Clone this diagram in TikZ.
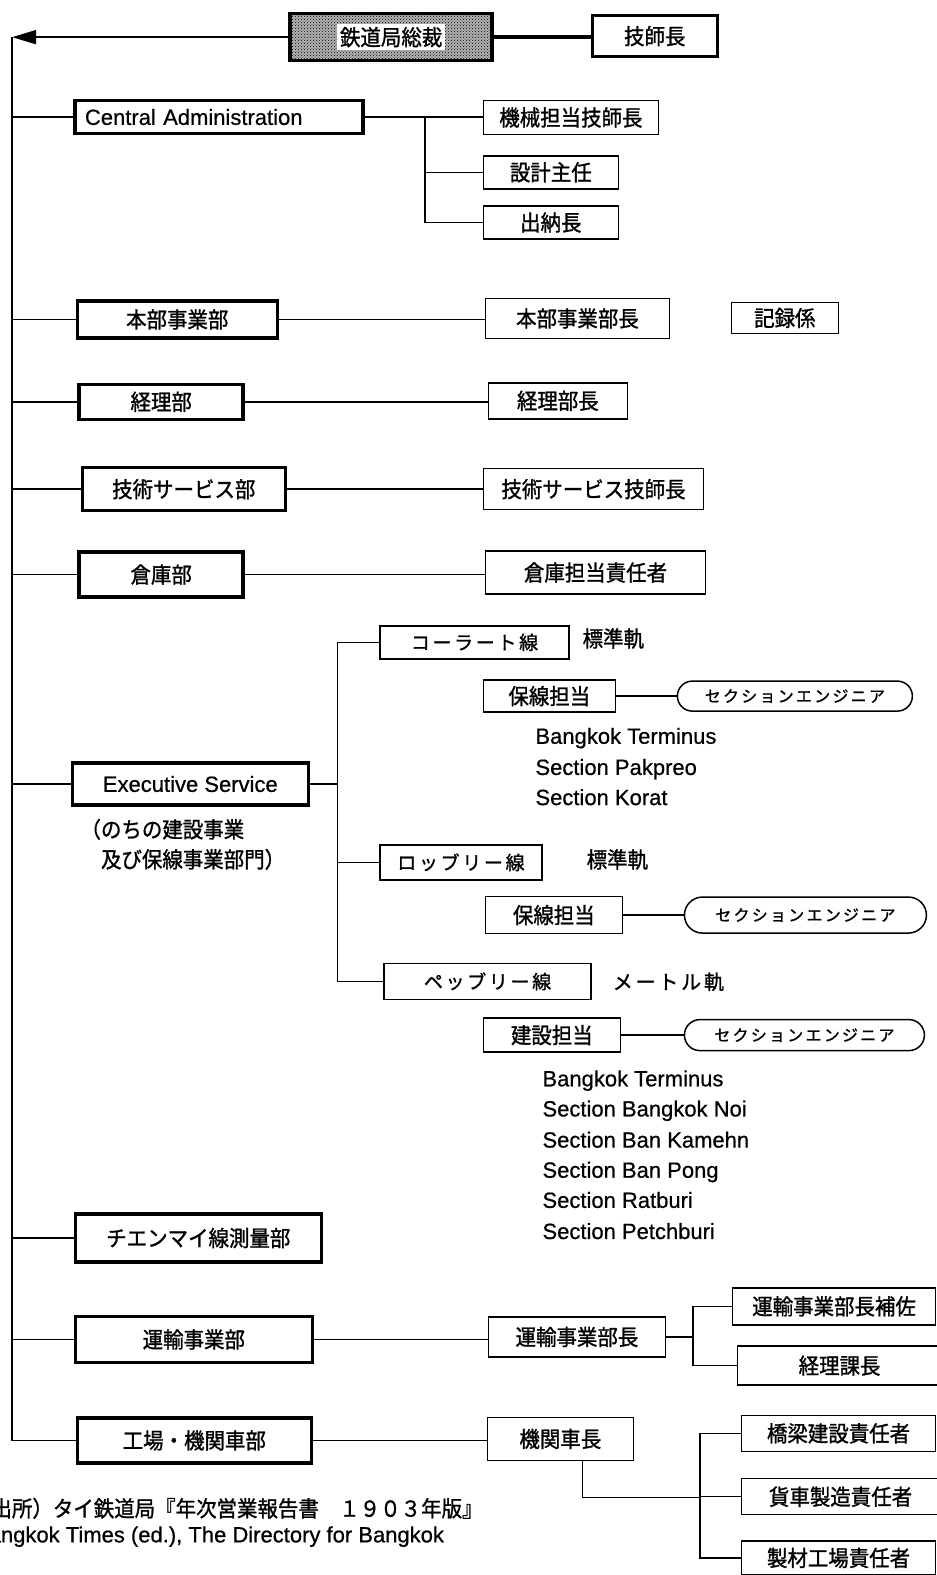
\documentclass[tikz,border=0pt]{standalone}
\usepackage{fontspec}
\setmainfont{Liberation Sans}[FakeBold=0.6]
\newfontfamily\jp[FakeStretch=0.93, FakeBold=1.2]{Noto Sans CJK JP}
\newfontfamily\jpsp[LetterSpace=14, FakeBold=1.2]{Noto Sans CJK JP}
\usetikzlibrary{patterns,arrows.meta,shapes.misc}
\begin{document}
\begin{tikzpicture}[x=1.0043pt,y=-1.0045pt,
  thickbox/.style={draw, line width=3.5pt, inner sep=0pt, font=\jp\fontsize{22}{22}\selectfont},
  thinbox/.style={draw, line width=1.5pt, inner sep=0pt, font=\jp\fontsize{22}{22}\selectfont},
  sz/.style 2 args={minimum width=#1pt, minimum height=#2pt},
  stadium/.style={draw, rounded rectangle, line width=1.5pt, inner sep=0pt, font=\jpsp\fontsize{16}{16}\selectfont},
  spaced/.style={font=\jpsp\fontsize{19}{19}\selectfont},
  conn/.style={line width=1.5pt},
  entxt/.style={font=\fontsize{22}{22}\selectfont, anchor=west, inner sep=0pt, text height=16pt, text depth=5pt},
  jptxt/.style={font=\jp\fontsize{22}{22}\selectfont, anchor=west, inner sep=0pt, text height=18pt, text depth=4pt}]
\useasboundingbox (0,0) rectangle (933,1568);

% top
\node[thickbox, sz={202}{47}, preaction={fill=black!30}, pattern=crosshatch dots, pattern color=black] (pres) at (389.5,37) {};
\node[fill=white, inner sep=3pt, font=\jp\fontsize{22}{22}\selectfont] (preslbl) at (pres.center) {鉄道局総裁};
\node[thickbox, sz={125}{41}] (gishi) at (652,36) {技師長};
\draw[line width=3.5pt] (pres.east) -- (pres.east -| gishi.west);
\coordinate (tl) at (12,37);
\draw[line width=1.8pt, -{Triangle[length=24pt,width=14pt]}] (pres.west) -- (tl);

% central administration
\node[thickbox, sz={288}{33}, inner xsep=10pt, text width=268pt, align=left, font=\fontsize{22}{22}\selectfont] (ca) at (218,116.5) {Central Administration};
\node[thinbox, sz={175}{34}] (kikai) at (568.5,117) {機械担当技師長};
\node[thinbox, sz={135}{33}] (sekkei) at (548.5,171.5) {設計主任};
\node[thinbox, sz={135}{33}] (suitou) at (548.5,221.5) {出納長};
\coordinate (cab) at (423,117);
\draw[conn] (ca.east) -- (ca.east -| kikai.west);
\draw[conn] (cab) |- (suitou.west);
\draw[conn] (cab |- sekkei.west) -- (sekkei.west);

% departments
\node[thickbox, sz={200}{37}] (hombu) at (176.5,318) {本部事業部};
\node[thinbox, sz={184}{40}] (hombuchou) at (575,317) {本部事業部長};
\node[thinbox, sz={107}{31}] (kiroku) at (781.5,316.5) {記録係};
\draw[conn] (hombu.east) -- (hombu.east -| hombuchou.west);

\node[thickbox, sz={164}{35}] (keiri) at (160.5,400) {経理部};
\node[thinbox, sz={139}{36}] (keirichou) at (555.5,399) {経理部長};
\draw[conn] (keiri.east) -- (keiri.east -| keirichou.west);

\node[thickbox, sz={203}{43}] (gijutsu) at (183,487) {技術サービス部};
\node[thinbox, sz={220}{41}] (gijutsuchou) at (591,487) {技術サービス技師長};
\draw[conn] (gijutsu.east) -- (gijutsu.east -| gijutsuchou.west);

\node[thickbox, sz={164}{45}] (souko) at (160.5,572) {倉庫部};
\node[thinbox, sz={220}{43}] (soukochou) at (593,570) {倉庫担当責任者};
\draw[conn] (souko.east) -- (souko.east -| soukochou.west);

% executive service
\node[thickbox, sz={236}{42}, font=\fontsize{22}{22}\selectfont] (exec) at (189.5,780.5) {Executive Service};
\node[anchor=north west, inner sep=0pt, align=left, font=\jp\fontsize{22}{30}\selectfont] (annot) at (80,815) {（のちの建設事業\\　及び保線事業部門）};
\coordinate (eb) at (336,780.5);
\node[thinbox, sz={189}{33}, spaced] (korat) at (472.5,639.5) {コーラート線};
\node[jptxt] (hj1) at (580,637) {標準軌};
\node[thinbox, sz={132}{32}] (hosen1) at (547,693) {保線担当};
\node[stadium, sz={235}{30}] (sec1) at (791.5,693) {セクションエンジニア};
\draw[conn] (hosen1.east) -- (sec1.west);
\node[entxt] (t1) at (533,735) {Bangkok Terminus};
\node[entxt] (t2) at (533,766) {Section Pakpreo};
\node[entxt] (t3) at (533,796) {Section Korat};

\node[thinbox, sz={162}{35}, spaced] (lop) at (459,858.5) {ロッブリー線};
\node[jptxt] (hj2) at (584,857) {標準軌};
\node[thinbox, sz={137}{37}] (hosen2) at (551.5,911) {保線担当};
\node[stadium, sz={242}{36}] (sec2) at (802,911) {セクションエンジニア};
\draw[conn] (hosen2.east) -- (sec2.west);

\node[thinbox, sz={207}{36}, spaced] (pep) at (485.5,977) {ペッブリー線};
\node[jptxt, font=\jpsp\fontsize{20}{20}\selectfont] (meter) at (610,978) {メートル軌};
\node[thinbox, sz={137}{34}] (kensetsu) at (549.5,1030.5) {建設担当};
\node[stadium, sz={240}{31}] (sec3) at (801,1030.5) {セクションエンジニア};
\draw[conn] (kensetsu.east) -- (sec3.west);
\node[entxt] (s1) at (540,1076) {Bangkok Terminus};
\node[entxt] (s2) at (540,1106) {Section Bangkok Noi};
\node[entxt] (s3) at (540,1137) {Section Ban Kamehn};
\node[entxt] (s4) at (540,1167) {Section Ban Pong};
\node[entxt] (s5) at (540,1197) {Section Ratburi};
\node[entxt] (s6) at (540,1228) {Section Petchburi};

\draw[conn] (exec.east) -- (eb);
\draw[conn] (korat.west) -| (eb) |- (pep.west);
\draw[conn] (eb |- lop.west) -- (lop.west);

% chiang mai
\node[thickbox, sz={246}{48}] (chiang) at (197.5,1232.5) {チエンマイ線測量部};

% transport
\node[thickbox, sz={237}{46}] (unyu) at (193,1333.5) {運輸事業部};
\node[thinbox, sz={177}{40}] (unyuchou) at (574.5,1331) {運輸事業部長};
\coordinate (ub) at (690,1331);
\node[thinbox, sz={203}{37}] (hosa) at (830.5,1300.5) {運輸事業部長補佐};
\node[thinbox, sz={204}{39}] (keirika) at (836,1359.5) {経理課長};
\draw[conn] (unyu.east) -- (unyu.east -| unyuchou.west);
\draw[conn] (unyuchou.east) -- (ub);
\draw[conn] (hosa.west) -| (ub) |- (keirika.west);

% works
\node[thickbox, sz={234}{45}] (kojo) at (193.5,1434) {工場・機関車部};
\node[thinbox, sz={146}{43}] (kikanchou) at (558,1432.5) {機関車長};
\draw[conn] (kojo.east) -- (kojo.east -| kikanchou.west);
\coordinate (kb) at (580,1491);
\coordinate (kv) at (697,1491);
\node[thinbox, sz={194}{36}] (kyouryou) at (835,1427) {橋梁建設責任者};
\node[thinbox, sz={198}{36}] (kasha) at (837,1490) {貨車製造責任者};
\node[thinbox, sz={194}{34}] (seizai) at (835,1551) {製材工場責任者};
\draw[conn] (kikanchou.south -| kb) -- (kb) -- (kv);
\draw[conn] (kyouryou.west) -| (kv) |- (seizai.west);
\draw[conn] (kv |- kasha.west) -- (kasha.west);

% left trunk
\draw[line width=1.8pt] (tl) |- (kojo.west);
\foreach \d in {ca,hombu,keiri,gijutsu,souko,exec,chiang,unyu}
  \draw[conn] (\d.west -| tl) -- (\d.west);

% footnote
\node[jptxt] (fn1) at (-29,1503) {（出所）タイ鉄道局『年次営業報告書　１９０３年版』};
\node[entxt] (fn2) at (-26,1530) {Bangkok Times (ed.),  The Directory for Bangkok};
\end{tikzpicture}
\end{document}
